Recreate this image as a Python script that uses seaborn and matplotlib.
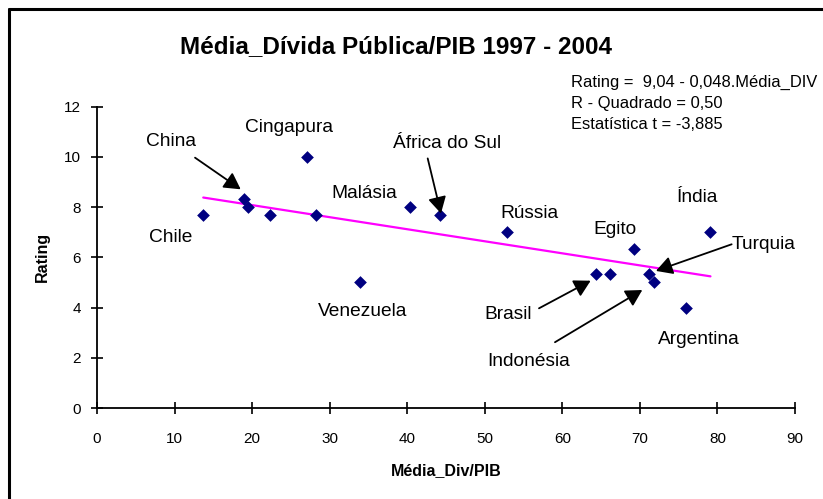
import matplotlib
matplotlib.use("Agg")
import matplotlib.pyplot as plt
from matplotlib.lines import Line2D
import numpy as np
import pandas as pd
import seaborn as sns

# Average public debt / GDP (1997-2004) and sovereign rating score
paises = ["Chile", "China", "", "", "Cingapura", "", "Venezuela", "Malásia",
          "África do Sul", "Rússia", "Brasil", "", "Egito", "Turquia",
          "Indonésia", "Argentina", "Índia"]
divida_pib = [13.7, 19.0, 19.5, 22.3, 27.1, 28.2, 33.9, 40.4,
              44.2, 52.9, 64.3, 66.2, 69.3, 71.2, 71.8, 75.9, 79.1]
rating = [7.67, 8.33, 8.00, 7.67, 10.00, 7.67, 5.00, 8.00,
          7.67, 7.00, 5.33, 5.33, 6.33, 5.33, 5.00, 4.00, 7.00]

# Fitted regression: Rating = 9,04 - 0,048 * Média_DIV
intercepto = 9.04
inclinacao = -0.048

x_ticks = [0, 10, 20, 30, 40, 50, 60, 70, 80, 90]
y_ticks = [0, 2, 4, 6, 8, 10, 12]

# Label text placement (data coordinates, baseline) and arrows (tail, tip)
rotulos = {
    "China": (9.6, 10.43),
    "Cingapura": (24.8, 11.0),
    "Chile": (9.5, 6.62),
    "Malásia": (34.4, 8.35),
    "Venezuela": (34.2, 3.66),
    "África do Sul": (45.1, 10.34),
    "Rússia": (55.7, 7.55),
    "Egito": (66.8, 6.93),
    "Índia": (77.4, 8.22),
    "Turquia": (86.0, 6.32),
    "Brasil": (53.0, 3.53),
    "Indonésia": (55.6, 1.68),
    "Argentina": (77.55, 2.55),
}
setas = {
    "China": ((12.64, 9.97), (18.53, 8.71)),
    "África do Sul": ((42.64, 9.94), (44.35, 7.75)),
    "Turquia": ((81.83, 6.52), (72.07, 5.46)),
    "Brasil": ((56.99, 3.97), (63.65, 5.07)),
    "Indonésia": ((59.05, 2.62), (70.31, 4.70)),
}

sns.set_style("ticks")
plt.rcParams["font.family"] = ["Liberation Sans", "DejaVu Sans"]
plt.rcParams.update({"text.color": "black", "axes.labelcolor": "black",
                     "xtick.color": "black", "ytick.color": "black"})

df = pd.DataFrame({"pais": paises, "divida": divida_pib, "rating": rating})
xs = np.array([min(divida_pib), max(divida_pib)])
df_linha = pd.DataFrame({"divida": xs, "rating": intercepto + inclinacao * xs})

fig = plt.figure(figsize=(8.23, 4.99), dpi=100)
ax = fig.add_axes([97 / 823, 1 - 408 / 499, (795 - 97) / 823, (408 - 106.7) / 499])

sns.lineplot(data=df_linha, x="divida", y="rating", ax=ax, color="#FF00FF",
             linewidth=1.6, zorder=2)
sns.scatterplot(data=df, x="divida", y="rating", ax=ax, marker="D", s=42,
                color="#000080", edgecolor="#000080", linewidth=0, zorder=3)

ax.set_xlim(0, 90)
ax.set_ylim(0, 12)
ax.set_xticks(x_ticks)
ax.set_yticks(y_ticks)
ax.tick_params(direction="inout", length=8, width=1.2, color="black",
               labelcolor="black", labelsize=11, bottom=True, left=True)
ax.tick_params(axis="x", pad=13)
ax.tick_params(axis="y", pad=7.5)
for s in ["top", "right"]:
    ax.spines[s].set_visible(False)
for s in ["left", "bottom"]:
    ax.spines[s].set_color("black")
    ax.spines[s].set_linewidth(1.3)

ax.set_xlabel("Média_Div/PIB", fontsize=11.5, fontweight="bold", labelpad=12.5,
              color="black")
ax.set_ylabel("Rating", fontsize=11.5, fontweight="bold", labelpad=10,
              color="black")

for nome, (tx, ty) in rotulos.items():
    ax.text(tx, ty, nome, ha="center", va="baseline", fontsize=13.8,
            color="black", zorder=4)

for nome, (cauda, ponta) in setas.items():
    ax.annotate("", xy=ponta, xytext=cauda,
                arrowprops=dict(arrowstyle="-|>,head_length=0.45,head_width=0.25",
                                mutation_scale=22, lw=1.3, color="black",
                                shrinkA=0, shrinkB=0), zorder=4)

fig.text(396 / 823, 1 - 47 / 499, "Média_Dívida Pública/PIB 1997 - 2004",
         ha="center", va="center", fontsize=17.5, fontweight="bold",
         color="black")

eq = ["Rating =  9,04 - 0,048.Média_DIV", "R - Quadrado = 0,50",
      "Estatística t = -3,885"]
for i, linha in enumerate(eq):
    fig.text(571 / 823, 1 - (82 + 21.3 * i) / 499, linha, ha="left",
             va="center", fontsize=11.9, color="black")

# Outer frame (left and top edges)
fig.add_artist(Line2D([9 / 823, 9 / 823], [0, 1 - 9 / 499],
                      transform=fig.transFigure, color="black", lw=2.2))
fig.add_artist(Line2D([9 / 823, 1], [1 - 9 / 499, 1 - 9 / 499],
                      transform=fig.transFigure, color="black", lw=2.2))

fig.savefig("out.png", dpi=100)
